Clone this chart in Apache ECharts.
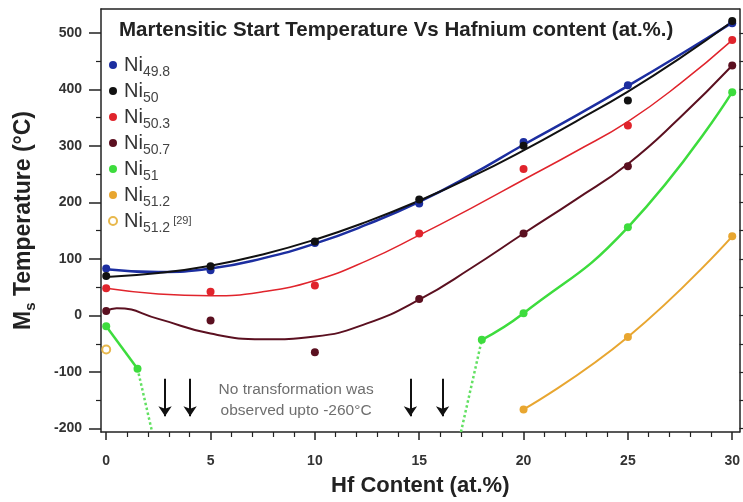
<!DOCTYPE html>
<html><head><meta charset="utf-8">
<script src="https://cdn.jsdelivr.net/npm/echarts@6/dist/echarts.min.js"></script>
<style>html,body{margin:0;padding:0;background:#fff}#c{width:743px;height:502px}</style>
</head><body><div id="c"></div>
<script>
// ---- data ----
const xMajorTicks = [0, 5, 10, 15, 20, 25, 30];
const xMinorTicks = [1,2,3,4,6,7,8,9,11,12,13,14,16,17,18,19,21,22,23,24,26,27,28,29];
const yMajorTicks = [-200, -100, 0, 100, 200, 300, 400, 500];
const yMinorTicks = [-150, -50, 50, 150, 250, 350, 450];
const yRightTicks = [-200,-150,-100,-50,0,50,100,150,200,250,300,350,400,450,500];

const seriesNames = ['Ni49.8', 'Ni50', 'Ni50.3', 'Ni50.7', 'Ni51', 'Ni51.2', 'Ni51.2 [29]'];

// measured points
const ptsNi498 = [[0,83],[5,80],[10,128],[15,198],[20,307],[25,407],[30,517]];
const ptsNi50  = [[0,70],[5,87],[10,131],[15,205],[20,300],[25,380],[30,521]];
const ptsNi503 = [[0,48],[5,42],[10,53],[15,145],[20,259],[25,336],[30,487]];
const ptsNi507 = [[0,8],[5,-9],[10,-65],[15,29],[20,145],[25,264],[30,442]];
const ptsNi51  = [[0,-19],[1.5,-94],[18,-43],[20,4],[25,156],[30,395]];
const ptsNi512 = [[20,-166],[25,-38],[30,140]];
const ptsNi512ref = [[0,-60]];

// fitted curves
const fitNi498 = [[0,82],[2.5,77],[5,83],[7.5,101],[10,127],[12.5,161],[15,201],[17.5,249],[20,302],[22.5,353],[25,406],[27.5,461],[30,518]];
const fitNi50  = [[0,68],[2.5,75],[5,88],[7.5,108],[10,134],[12.5,166],[15,203],[17.5,245],[20,292],[22.5,343],[25,396],[27.5,455],[30,520]];
const fitNi503 = [[0,48],[2.5,38],[5,35],[7.5,42],[10,62],[12.5,97],[15,142],[17.5,190],[20,240],[22.5,290],[25,343],[27.5,410],[30,487]];
const fitNi507 = [[0,8],[0.5,13],[2.5,-6],[5,-32],[7.5,-42],[10,-37],[12.5,-14],[15,28],[17.5,84],[20,145],[22.5,205],[25,268],[27.5,350],[30,442]];
const lineNi51a = [[0,-19],[1.5,-94]];
const dotNi51a  = [[1.5,-94],[2.2,-206]];
const dotNi51b  = [[17,-206],[18,-43]];
const lineNi51b = [[18,-43],[20,4],[25,156],[30,395]];
const lineNi512 = [[20,-166],[25,-38],[30,140]];

// annotation
const noteText = 'No transformation was\nobserved upto -260°C';
const notePos = [9.1, -149];
const arrowXs = [2.82, 4.02, 14.58, 16.12];
const arrowTop = -112, arrowTip = -178;

const colors = {
  'Ni49.8': '#1c2ea0', 'Ni50': '#111111', 'Ni50.3': '#e0242c', 'Ni50.7': '#5b1020',
  'Ni51': '#3ddc3d', 'Ni51.2': '#e8a630', 'Ni51.2 [29]': '#e8b84c'
};
const FONT = 'Liberation Sans';

function scatter(name, data, symbol) {
  return { name, type: 'scatter', data, symbol: symbol || 'circle', symbolSize: 8, z: 5,
    itemStyle: symbol === 'emptyCircle' ? { color: colors[name], borderWidth: 1.5, opacity: 1 } : { color: colors[name], opacity: 1 } };
}
function curve(name, data, width, smooth, dotted) {
  return { name: name + '_fit', type: 'line', data, showSymbol: false, smooth: smooth, z: 3,
    lineStyle: { color: dotted ? '#62e062' : colors[name], width, type: dotted ? 'dotted' : 'solid' } };
}

const series = [
  curve('Ni49.8', fitNi498, 2.5, true),
  curve('Ni50', fitNi50, 2, true),
  curve('Ni50.3', fitNi503, 1.5, true),
  curve('Ni50.7', fitNi507, 2, true),
  curve('Ni51', lineNi51a, 2.5, false),
  curve('Ni51', dotNi51a, 2.5, false, true),
  curve('Ni51', dotNi51b, 2.5, false, true),
  curve('Ni51', lineNi51b, 2.5, true),
  curve('Ni51.2', lineNi512, 2, true),
  scatter('Ni49.8', ptsNi498), scatter('Ni50', ptsNi50), scatter('Ni50.3', ptsNi503),
  scatter('Ni50.7', ptsNi507), scatter('Ni51', ptsNi51), scatter('Ni51.2', ptsNi512),
  scatter('Ni51.2 [29]', ptsNi512ref, 'emptyCircle'),
  { name: 'note', type: 'scatter', data: [notePos], symbolSize: 0, silent: true, z: 4,
    label: { show: true, position: 'inside', formatter: noteText, fontFamily: FONT, fontSize: 15.5,
      lineHeight: 21, color: '#4a4a4a', align: 'center' },
    markLine: { silent: true, symbol: ['none', 'arrow'], symbolSize: 10, animation: false,
      label: { show: false }, lineStyle: { color: '#111', width: 2, type: 'solid' },
      data: arrowXs.map(x => [{ coord: [x, arrowTop] }, { coord: [x, arrowTip] }]) } }
];

const axisLineStyle = { color: '#222', width: 1.5 };
const chart = echarts.init(document.getElementById('c'));
chart.setOption({
  animation: false,
  backgroundColor: '#fff',
  title: { text: 'Martensitic Start Temperature Vs Hafnium content (at.%.)', left: 119, top: 20, padding: 0,
    textStyle: { fontFamily: FONT, fontWeight: 'bold', fontSize: 20.5, color: '#222' } },
  legend: {
    orient: 'vertical', left: 103, top: 50, itemGap: 2, itemWidth: 8, itemHeight: 8,
    data: seriesNames.map(n => n === 'Ni51.2 [29]' ? { name: n, icon: 'emptyCircle' } : { name: n, icon: 'circle' }),
    formatter: function (name) {
      const m = name.match(/^Ni([\d.]+)( \[29\])?$/);
      return '{a|Ni}{b|' + m[1] + '}' + (m[2] ? '{c|[29]}' : '');
    },
    textStyle: { rich: {
      a: { fontFamily: FONT, fontSize: 20, color: '#333', lineHeight: 22, verticalAlign: 'middle', padding: [0, 0, 0, 2] },
      b: { fontFamily: FONT, fontSize: 14, color: '#444', lineHeight: 22, verticalAlign: 'bottom', padding: [0, 0, -3, 0] },
      c: { fontFamily: FONT, fontSize: 11, color: '#444', lineHeight: 22, verticalAlign: 'middle', padding: [0, 0, 0, 3] }
    } }
  },
  grid: { left: 101, right: 3, top: 9, bottom: 60, containLabel: false },
  xAxis: [
    { type: 'value', min: -0.25, max: 30.35, position: 'bottom',
      axisLine: { show: true, onZero: false, lineStyle: axisLineStyle },
      axisTick: { show: true, inside: false, length: 8, customValues: xMajorTicks, lineStyle: { color: '#222', width: 1.5 } },
      axisLabel: { customValues: xMajorTicks, margin: 22, fontFamily: FONT, fontWeight: 'bold', fontSize: 14, color: '#333' },
      splitLine: { show: false },
      name: 'Hf Content (at.%)', nameLocation: 'middle', nameGap: 43,
      nameTextStyle: { fontFamily: FONT, fontWeight: 'bold', fontSize: 22, color: '#222' } },
    { type: 'value', min: -0.25, max: 30.35, position: 'bottom',
      axisLine: { show: false, onZero: false },
      axisTick: { show: true, inside: false, length: 5, customValues: xMinorTicks, lineStyle: { color: '#222', width: 1.2 } },
      axisLabel: { show: false }, splitLine: { show: false } },
    { type: 'value', min: -0.25, max: 30.35, position: 'top',
      axisLine: { show: true, onZero: false, lineStyle: axisLineStyle },
      axisTick: { show: false }, axisLabel: { show: false }, splitLine: { show: false } }
  ],
  yAxis: [
    { type: 'value', min: -206, max: 542, position: 'left',
      axisLine: { show: true, onZero: false, lineStyle: axisLineStyle },
      axisTick: { show: true, inside: false, length: 12, customValues: yMajorTicks, lineStyle: { color: '#222', width: 1.5 } },
      axisLabel: { customValues: yMajorTicks, margin: 19, fontFamily: FONT, fontWeight: 'bold', fontSize: 14, color: '#333' },
      splitLine: { show: false },
      name: '{a|M}{b|s}{a| Temperature (°C)}', nameLocation: 'middle', nameGap: 63, nameRotate: 90,
      nameTextStyle: { rich: {
        a: { fontFamily: FONT, fontWeight: 'bold', fontSize: 23, color: '#222', lineHeight: 28, verticalAlign: 'middle' },
        b: { fontFamily: FONT, fontWeight: 'bold', fontSize: 15, color: '#222', lineHeight: 28, verticalAlign: 'bottom' }
      } } },
    { type: 'value', min: -206, max: 542, position: 'left',
      axisLine: { show: false, onZero: false },
      axisTick: { show: true, inside: false, length: 5, customValues: yMinorTicks, lineStyle: { color: '#222', width: 1.2 } },
      axisLabel: { show: false }, splitLine: { show: false } },
    { type: 'value', min: -206, max: 542, position: 'right',
      axisLine: { show: true, onZero: false, lineStyle: axisLineStyle },
      axisTick: { show: true, inside: false, length: 4, customValues: yRightTicks, lineStyle: { color: '#222', width: 1.2 } },
      axisLabel: { show: false }, splitLine: { show: false } }
  ],
  series: series
});
</script>
</body></html>
